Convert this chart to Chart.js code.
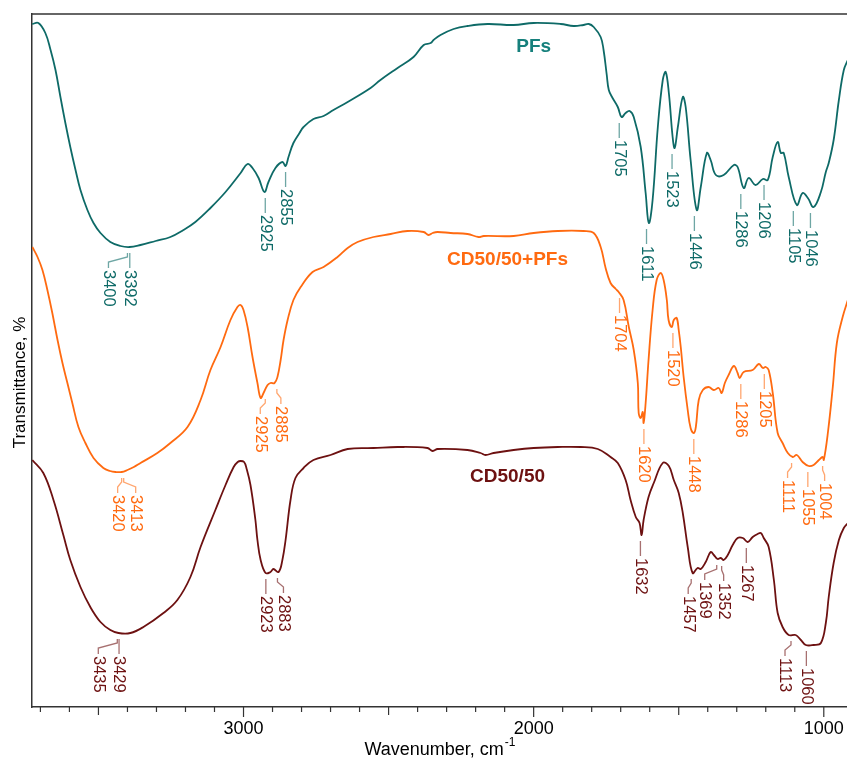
<!DOCTYPE html>
<html>
<head>
<meta charset="utf-8">
<script src="https://cdn.jsdelivr.net/npm/chart.js@4/dist/chart.umd.min.js"></script>
<style>
  html, body { margin: 0; padding: 0; background: #fff; }
</style>
</head>
<body>
<canvas id="chart" width="847" height="760"></canvas>
<script>
// FTIR spectra, [wavenumber cm-1, transmittance (offset, a.u.)]
const pfs = [
  [3728,68.3],[3707,68.4],[3683,67.4],[3665,65.7],[3648,63.7],[3631,61.0],[3614,58.4],[3597,56.0],
  [3579,53.7],[3562,51.7],[3538,49.7],[3517,48.4],[3493,47.4],[3459,46.5],[3424,46.1],[3393,46.0],
  [3355,46.2],[3303,46.6],[3252,47.0],[3207,47.7],[3166,48.5],[3114,49.9],[3062,51.5],[3010,53.4],
  [2986,54.3],[2969,53.9],[2948,52.9],[2928,51.5],[2914,52.5],[2890,53.9],[2866,54.5],[2855,54.1],
  [2845,55.0],[2828,56.4],[2807,57.4],[2793,58.0],[2759,58.8],[2724,59.1],[2690,59.7],[2641,60.5],
  [2562,61.9],[2528,62.7],[2469,63.9],[2414,65.0],[2379,66.2],[2355,66.4],[2345,66.7],[2321,67.2],
  [2276,67.8],[2228,68.1],[2159,68.3],[2069,68.2],[2000,68.4],[1907,68.3],[1862,68.1],[1828,68.2],
  [1810,68.3],[1793,68.0],[1769,67.0],[1759,65.7],[1748,63.2],[1741,61.7],[1728,60.9],[1710,60.0],
  [1697,59.0],[1683,59.4],[1669,59.6],[1655,59.0],[1631,56.0],[1614,51.4],[1603,48.4],[1590,50.7],
  [1572,58.0],[1555,62.7],[1545,63.5],[1534,61.4],[1521,57.0],[1514,55.9],[1503,58.0],[1486,61.0],
  [1476,60.0],[1459,54.7],[1438,49.7],[1424,52.0],[1403,55.4],[1390,54.7],[1372,53.2],[1345,53.2],
  [1310,54.2],[1297,54.0],[1276,51.9],[1259,52.9],[1235,52.2],[1210,52.8],[1193,52.7],[1176,55.0],
  [1159,56.5],[1148,55.4],[1138,55.4],[1121,53.0],[1093,50.2],[1073,51.4],[1055,50.9],[1035,50.0],
  [1010,51.5],[993,53.5],[983,54.4],[966,56.7],[948,60.7],[931,63.7],[917,64.7]
];

const blend = [
  [3728,46.0],[3710,45.0],[3693,43.7],[3676,41.7],[3659,39.4],[3641,36.7],[3624,34.4],[3607,32.4],
  [3590,30.4],[3569,28.0],[3545,26.4],[3517,24.9],[3483,23.9],[3460,23.6],[3441,23.5],[3420,23.5],
  [3400,23.7],[3378,24.0],[3355,24.4],[3297,25.4],[3252,26.4],[3193,28.0],[3148,30.7],[3114,33.7],
  [3079,36.0],[3045,38.7],[3021,40.0],[3010,40.2],[3000,39.7],[2986,38.0],[2969,35.0],[2952,32.4],
  [2941,30.9],[2931,31.4],[2917,32.2],[2907,32.4],[2893,32.4],[2883,33.0],[2872,34.7],[2862,36.7],
  [2848,38.7],[2828,40.7],[2803,42.0],[2762,43.5],[2724,44.0],[2676,45.0],[2641,45.9],[2607,46.5],
  [2552,47.0],[2493,47.3],[2435,47.6],[2379,47.5],[2362,47.2],[2348,47.4],[2331,47.5],[2286,47.4],
  [2228,47.3],[2190,47.0],[2172,47.1],[2069,47.1],[2000,47.4],[1917,47.6],[1828,47.6],[1793,47.4],
  [1769,46.0],[1752,43.9],[1735,42.4],[1717,41.8],[1707,41.5],[1690,40.7],[1672,38.0],[1655,35.7],
  [1641,32.4],[1638,29.4],[1631,28.9],[1624,29.5],[1621,28.4],[1614,30.4],[1604,34.7],[1590,39.7],
  [1576,42.7],[1562,43.4],[1552,42.7],[1541,40.7],[1535,38.7],[1524,38.0],[1517,38.7],[1507,38.9],
  [1500,37.7],[1493,36.0],[1483,33.0],[1469,29.7],[1459,27.9],[1448,27.4],[1441,28.0],[1431,30.7],
  [1417,31.7],[1397,32.0],[1379,31.7],[1362,31.9],[1352,31.4],[1341,32.4],[1328,33.2],[1310,34.1],
  [1297,33.4],[1290,32.9],[1276,33.5],[1245,33.7],[1224,34.3],[1210,33.9],[1200,34.0],[1190,33.7],
  [1176,31.4],[1159,27.4],[1142,26.4],[1124,25.4],[1107,25.0],[1093,25.2],[1073,24.5],[1052,24.1],
  [1035,24.2],[1017,24.7],[1004,25.0],[1000,24.7],[986,27.4],[969,32.0],[955,36.4],[935,39.0],
  [917,40.7]
];

const cd = [
  [3728,24.7],[3690,23.4],[3655,20.7],[3621,17.2],[3597,14.7],[3562,12.0],[3528,10.0],[3493,8.5],
  [3459,7.7],[3431,7.4],[3390,7.4],[3345,8.0],[3276,9.4],[3228,10.7],[3183,13.0],[3148,16.0],
  [3097,19.7],[3062,22.2],[3034,24.0],[3020,24.5],[3010,24.6],[2998,24.5],[2990,23.9],[2976,22.2],
  [2959,18.7],[2952,16.7],[2941,14.7],[2924,13.4],[2907,13.5],[2897,13.8],[2879,13.5],[2866,14.7],
  [2855,16.7],[2838,20.7],[2821,22.9],[2793,23.9],[2759,24.7],[2700,25.2],[2641,25.8],[2552,25.9],
  [2469,26.0],[2366,25.9],[2348,25.6],[2331,25.8],[2228,25.7],[2183,25.4],[2166,25.2],[2138,25.4],
  [2069,25.7],[2000,25.9],[1917,26.0],[1838,26.0],[1779,25.8],[1735,25.0],[1710,24.4],[1683,22.7],
  [1666,20.7],[1648,19.0],[1635,18.4],[1628,17.2],[1621,18.7],[1604,21.0],[1586,22.4],[1555,24.4],
  [1534,24.1],[1517,22.7],[1500,21.4],[1486,19.4],[1469,16.0],[1452,13.4],[1435,13.9],[1424,13.8],
  [1407,14.5],[1390,15.5],[1379,15.2],[1366,14.8],[1355,14.9],[1345,14.7],[1331,15.2],[1314,16.2],
  [1297,16.9],[1279,16.9],[1262,16.5],[1245,17.0],[1228,17.3],[1217,17.4],[1207,16.9],[1190,16.0],
  [1172,12.7],[1159,9.4],[1142,8.0],[1121,7.2],[1097,7.2],[1079,6.7],[1062,6.2],[1035,6.2],
  [1010,6.4],[993,8.4],[983,11.0],[966,14.4],[948,16.7],[931,17.9],[917,18.4]
];

// labelled band positions, cm-1
const pfsPeaks = [3400, 3392, 2925, 2855, 1705, 1611, 1523, 1446, 1286, 1206, 1105, 1046];
const blendPeaks = [3420, 3413, 2925, 2885, 1704, 1620, 1520, 1448, 1286, 1205, 1111, 1055, 1004];
const cdPeaks = [3435, 3429, 2923, 2883, 1632, 1457, 1369, 1352, 1267, 1113, 1060];

const seriesNames = ['PFs', 'CD50/50+PFs', 'CD50/50'];
// where each name sits: [wavenumber, transmittance]
const namePos = [[2000, 66.0], [2090, 44.7], [2090, 23.0]];

const xTickLabels = [1000, 2000, 3000];

// colours / fonts
const colors = ['#0e6a67', '#ff6a10', '#6d1111'];
const nameColors = ['#16807c', '#ff6a10', '#6d1111'];
const FONT = '"Liberation Sans", Arial, sans-serif';

// sideways text nudges for crowded labels (px)
const labelShift = [
  { 3400: -19 },
  { 3420: -4, 3413: 12, 2925: -5, 2885: 4, 1111: -4, 1004: 2 },
  { 3435: -19, 2883: 6, 1457: -3, 1369: -12, 1352: 2, 1113: -6 }
];

function lowestNear(series, w) {
  let best = null;
  series.forEach(p => {
    if (Math.abs(p[0] - w) <= 12 && (best === null || p[1] < best)) best = p[1];
  });
  if (best === null) {
    let d = Infinity;
    series.forEach(p => {
      if (Math.abs(p[0] - w) < d) { d = Math.abs(p[0] - w); best = p[1]; }
    });
  }
  return best;
}

const annotate = {
  id: 'annotate',
  afterDatasetsDraw(chart) {
    const { ctx, chartArea: a, scales: { x, y } } = chart;
    ctx.save();

    // top frame line
    ctx.strokeStyle = '#333';
    ctx.lineWidth = 1.5;
    ctx.beginPath();
    ctx.moveTo(a.left, a.top);
    ctx.lineTo(a.right, a.top);
    ctx.stroke();

    // x ticks: every 100, longer at 500 and 1000
    ctx.lineWidth = 1.2;
    for (let w = Math.ceil(x.min / 100) * 100; w <= x.max; w += 100) {
      const px = x.getPixelForValue(w);
      const len = w % 1000 === 0 ? 10 : (w % 500 === 0 ? 8 : 5);
      ctx.beginPath();
      ctx.moveTo(px, a.bottom);
      ctx.lineTo(px, a.bottom + len);
      ctx.stroke();
    }

    // axis titles
    ctx.fillStyle = '#000';
    ctx.textBaseline = 'alphabetic';
    const main = 'Wavenumber, cm';
    ctx.font = '12px ' + FONT;
    const supW = ctx.measureText('-1').width;
    ctx.font = '18px ' + FONT;
    const mainW = ctx.measureText(main).width;
    const cx = (a.left + a.right) / 2;
    const tx = cx - (mainW + supW) / 2;
    ctx.textAlign = 'left';
    ctx.fillText(main, tx, 755);
    ctx.font = '12px ' + FONT;
    ctx.fillText('-1', tx + mainW + 1, 746);

    ctx.save();
    ctx.translate(a.left - 12, (a.top + a.bottom) / 2 + 22);
    ctx.rotate(-Math.PI / 2);
    ctx.font = '17px ' + FONT;
    ctx.textAlign = 'center';
    ctx.textBaseline = 'middle';
    ctx.fillText('Transmittance, %', 0, 0);
    ctx.restore();

    // band labels below each minimum
    const sets = [[pfs, pfsPeaks], [blend, blendPeaks], [cd, cdPeaks]];
    sets.forEach(([series, peaks], i) => {
      peaks.forEach(w => {
        const px = x.getPixelForValue(w);
        const top = y.getPixelForValue(lowestNear(series, w)) + 6;
        const tx = px + (labelShift[i][w] || 0);
        ctx.strokeStyle = colors[i];
        ctx.globalAlpha = 0.6;
        ctx.lineWidth = 1.3;
        ctx.beginPath();
        ctx.moveTo(px, top);
        if (tx !== px) {
          ctx.lineTo(px, top + 4);
          ctx.lineTo(tx, top + 9);
        }
        ctx.lineTo(tx, top + 15);
        ctx.stroke();
        ctx.globalAlpha = 1;
        ctx.save();
        ctx.translate(tx, top + 17);
        ctx.rotate(Math.PI / 2);
        ctx.fillStyle = colors[i];
        ctx.font = '16.5px ' + FONT;
        ctx.textAlign = 'left';
        ctx.textBaseline = 'middle';
        ctx.fillText(String(w), 0, 0);
        ctx.restore();
      });
    });

    // series names
    ctx.font = 'bold 19px ' + FONT;
    ctx.textAlign = 'center';
    ctx.textBaseline = 'middle';
    seriesNames.forEach((n, i) => {
      ctx.fillStyle = nameColors[i];
      ctx.fillText(n, x.getPixelForValue(namePos[i][0]), y.getPixelForValue(namePos[i][1]));
    });

    ctx.restore();
  }
};

const toXY = s => s.map(([x, y]) => ({ x, y }));

new Chart(document.getElementById('chart'), {
  type: 'line',
  data: {
    datasets: [
      { label: seriesNames[0], data: toXY(pfs), borderColor: colors[0] },
      { label: seriesNames[1], data: toXY(blend), borderColor: colors[1] },
      { label: seriesNames[2], data: toXY(cd), borderColor: colors[2] }
    ]
  },
  options: {
    responsive: false,
    animation: false,
    devicePixelRatio: 1,
    layout: { padding: { top: 14, right: 0, left: 0, bottom: 0 } },
    plugins: { legend: { display: false }, tooltip: { enabled: false } },
    elements: {
      point: { radius: 0 },
      line: { borderWidth: 1.8, tension: 0.4, fill: false }
    },
    scales: {
      x: {
        type: 'linear',
        reverse: true,
        min: 920,
        max: 3729,
        grid: { display: false, drawTicks: false },
        border: { display: true, color: '#333', width: 1.5 },
        afterBuildTicks(scale) {
          scale.ticks = xTickLabels.map(v => ({ value: v }));
        },
        ticks: {
          autoSkip: false,
          maxRotation: 0,
          padding: 11,
          color: '#000',
          font: { family: FONT, size: 18 },
          callback: v => String(v)
        },
        afterFit(scale) { scale.height = 53; }
      },
      y: {
        min: 0,
        max: 69.3,
        grid: { display: false, drawTicks: false },
        border: { display: true, color: '#333', width: 1.5 },
        ticks: { display: false },
        afterFit(scale) { scale.width = 32; }
      }
    }
  },
  plugins: [annotate]
});
</script>
</body>
</html>
